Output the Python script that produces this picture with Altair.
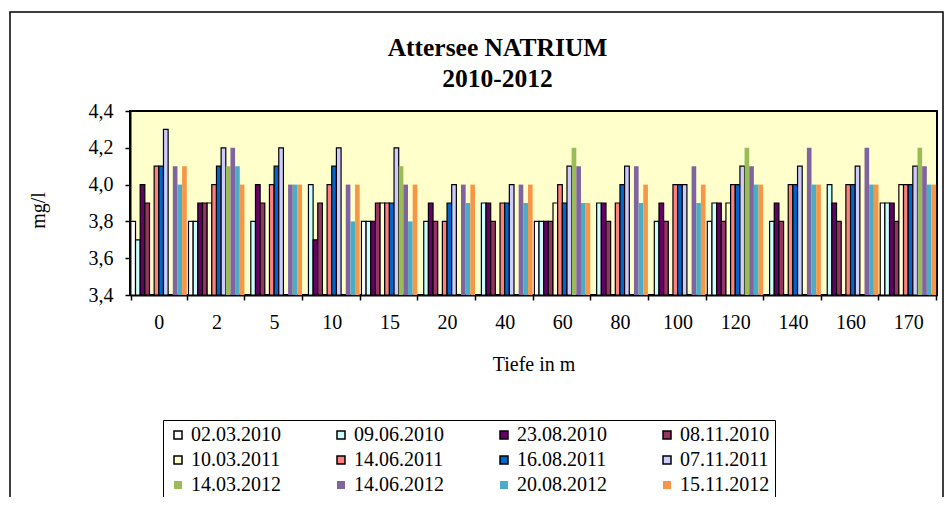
import altair as alt
import pandas as pd

depths = ["0", "2", "5", "10", "15", "20", "40", "60", "80", "100", "120", "140", "160", "170"]
dates = ["02.03.2010", "09.06.2010", "23.08.2010", "08.11.2010",
         "10.03.2011", "14.06.2011", "16.08.2011", "07.11.2011",
         "14.03.2012", "14.06.2012", "20.08.2012", "15.11.2012"]
colors = ["#FFFFFF", "#CCFFFF", "#660066", "#993366",
          "#FFFFCC", "#FF8080", "#0066CC", "#CCCCFF",
          "#9BBB59", "#8064A2", "#4BACC6", "#F79646"]
outline = ["black"] * 8 + ["transparent"] * 4

s_02_03_2010 = [3.8, 3.8, None, None, 3.8, None, None, 3.8, None, None, 3.8, None, None, 3.9]
s_09_06_2010 = [3.7, 3.8, 3.8, 4.0, 3.8, 3.8, 3.9, 3.8, 3.9, 3.8, 3.9, 3.8, 4.0, 3.9]
s_23_08_2010 = [4.0, 3.9, 4.0, 3.7, 3.8, 3.9, 3.9, 3.8, 3.9, 3.9, 3.9, 3.9, 3.9, 3.9]
s_08_11_2010 = [3.9, 3.9, 3.9, 3.9, 3.9, 3.8, 3.8, 3.8, 3.8, 3.8, 3.8, 3.8, 3.8, 3.8]
s_10_03_2011 = [None, 3.9, None, None, 3.9, None, None, 3.9, None, None, 3.9, None, None, 4.0]
s_14_06_2011 = [4.1, 4.0, 4.0, 4.0, 3.9, 3.8, 3.9, 4.0, 3.9, 4.0, 4.0, 4.0, 4.0, 4.0]
s_16_08_2011 = [4.1, 4.1, 4.1, 4.1, 3.9, 3.9, 3.9, 3.9, 4.0, 4.0, 4.0, 4.0, 4.0, 4.0]
s_07_11_2011 = [4.3, 4.2, 4.2, 4.2, 4.2, 4.0, 4.0, 4.1, 4.1, 4.0, 4.1, 4.1, 4.1, 4.1]
s_14_03_2012 = [None, 4.1, None, None, 4.1, None, None, 4.2, None, None, 4.2, None, None, 4.2]
s_14_06_2012 = [4.1, 4.2, 4.0, 4.0, 4.0, 4.0, 4.0, 4.1, 4.1, 4.1, 4.1, 4.2, 4.2, 4.1]
s_20_08_2012 = [4.0, 4.1, 4.0, 3.8, 3.8, 3.9, 3.9, 3.9, 3.9, 3.9, 4.0, 4.0, 4.0, 4.0]
s_15_11_2012 = [4.1, 4.0, 4.0, 4.0, 4.0, 4.0, 4.0, 3.9, 4.0, 4.0, 4.0, 4.0, 4.0, 4.0]

series_values = [s_02_03_2010, s_09_06_2010, s_23_08_2010, s_08_11_2010,
                 s_10_03_2011, s_14_06_2011, s_16_08_2011, s_07_11_2011,
                 s_14_03_2012, s_14_06_2012, s_20_08_2012, s_15_11_2012]

y_ticks = [3.4, 3.6, 3.8, 4.0, 4.2, 4.4]

rows = []
for d, vals in zip(dates, series_values):
    for dep, v in zip(depths, vals):
        if v is not None:
            rows.append({"Tiefe": dep, "Datum": d, "Wert": v})
df = pd.DataFrame(rows)

FONT = "Liberation Serif"

legend = alt.Legend(
    title=None, orient="none", legendX=33, legendY=309, columns=4,
    direction="horizontal",
    symbolType="square", symbolSize=64, symbolStrokeWidth=1.5,
    labelFont=FONT, labelFontSize=20, labelColor="black", labelOffset=3,
    columnPadding=50, rowPadding=5, padding=5,
    strokeColor="black", fillColor="white", labelLimit=200,
)

bars = alt.Chart(df).mark_bar(strokeWidth=1.2).encode(
    x=alt.X("Tiefe:N", sort=depths,
            scale=alt.Scale(domain=depths, paddingInner=0.03, paddingOuter=0.015),
            axis=alt.Axis(title="Tiefe in m", labelAngle=0, tickBand="extent",
                          tickSize=5, tickWidth=1.5, tickColor="black",
                          domainColor="black", domainWidth=2,
                          labelFont=FONT, labelFontSize=20, labelColor="black",
                          labelPadding=12,
                          titleFont=FONT, titleFontSize=20, titleFontWeight="normal",
                          titleColor="black", titlePadding=22)),
    xOffset=alt.XOffset("Datum:N", sort=dates,
                        scale=alt.Scale(domain=dates, paddingInner=0, paddingOuter=0)),
    y=alt.Y("Wert:Q", scale=alt.Scale(domain=[3.4, 4.4], zero=False, nice=False),
            axis=alt.Axis(values=y_ticks, grid=False, title="mg/l",
                          labelExpr="replace(format(datum.value, '.1f'), '.', ',')",
                          tickSize=5, tickWidth=1.5, tickColor="black",
                          domainColor="black", domainWidth=2,
                          labelFont=FONT, labelFontSize=20, labelColor="black",
                          labelPadding=12,
                          titleFont=FONT, titleFontSize=20, titleFontWeight="normal",
                          titleColor="black", titleX=-92, titleY=99,
                          titleAlign="center", titleBaseline="middle")),
    y2=alt.datum(3.4),
    fill=alt.Fill("Datum:N", scale=alt.Scale(domain=dates, range=colors), legend=legend),
    stroke=alt.Stroke("Datum:N", scale=alt.Scale(domain=dates, range=outline), legend=legend),
)

frame = alt.Chart(pd.DataFrame({"a": [0]})).mark_rect(
    fill="transparent", stroke="black", strokeWidth=1.5
).encode(x=alt.value(-120), x2=alt.value(813), y=alt.value(-99), y2=alt.value(420))

chart = alt.layer(frame, bars).properties(
    width=807, height=184,
    padding={"left": 122, "top": 103, "right": 7, "bottom": 202},
    autosize=alt.AutoSizeParams(type="none"),
    title=alt.TitleParams(
        text=["Attersee NATRIUM", "2010-2012"], font=FONT, fontSize=25.5,
        fontWeight="bold", color="black", anchor="middle", dx=-36,
        offset=-81, lineHeight=31),
).configure_view(
    fill="#FFFFCC", stroke="black", strokeWidth=2
)

chart.save("out.html", embed_options={"renderer": "svg", "actions": False})
